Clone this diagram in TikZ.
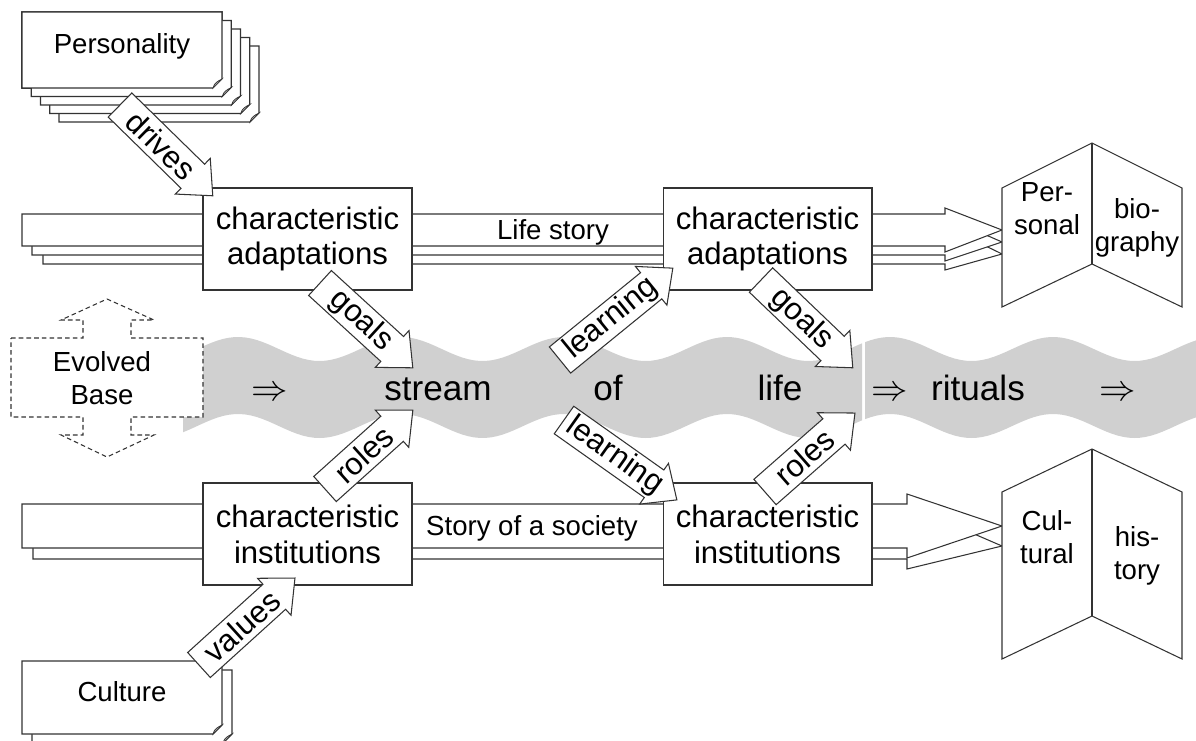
\documentclass[tikz,border=0pt]{standalone}
\usepackage{fontspec}
\setmainfont{Liberation Sans}
\usepackage{tikz}
\usetikzlibrary{calc}
\definecolor{streamgray}{RGB}{208,208,208}
\tikzset{outline/.style = {draw=black!80, line width=0.6pt, line join=miter}}
\tikzset{cbox/.style = {outline, fill=white, minimum width=4.18cm, minimum height=2.04cm,
                        inner sep=0, align=center, font=\fontsize{17.7}{20.4}\selectfont}}
\tikzset{lbl/.style = {inner sep=0, align=center, font=\fontsize{15.7}{18.7}\selectfont}}
\tikzset{word/.style = {inner sep=0, anchor=base, font=\fontsize{20}{24}\selectfont}}
\tikzset{layer/.style = {outline, fill=white}}
\tikzset{curl/.style = {outline, line width=0.4pt, fill=gray!55}}
\tikzset{evolved/.style = {draw=black!80, line width=0.6pt, fill=white, dash pattern=on 2.6pt off 1.8pt}}
\tikzset{arrowtext/.style = {inner sep=0, font=\fontsize{17.7}{20}\selectfont}}
% one sheet of a stack, folded corner at bottom right
\newcommand\docpage[4]{%
    \filldraw[outline, fill=white] (#1,#2) -- (#3,#2) -- (#3,#4-9) -- (#3-9,#4) -- (#1,#4) -- cycle;
    \filldraw[curl] (#3,#4-9) -- (#3-9,#4) .. controls (#3-8,#4-5) and (#3-4,#4-7) .. cycle;
}
% block arrow with text, from one named point to another
\newcommand\flowarrow[3]{%
    \path let \p1 = (#1), \p2 = (#2) in \pgfextra{%
        \pgfmathsetmacro\faang{atan2(\y2-\y1,\x2-\x1)}%
        \pgfmathsetmacro\falen{veclen(\x2-\x1,\y2-\y1)}%
        \xdef\faang{\faang}\xdef\falen{\falen}};
    \pgfmathsetmacro\fabase{\falen-15.9}%
    \pgfmathsetmacro\fatext{\falen/2-4}%
    \begin{scope}[shift={(#1)}, rotate=\faang, x=1pt, y=1pt]
        \filldraw[outline, fill=white] (0,9.6) -- (\fabase,9.6) -- (\fabase,14.2) -- (\falen,0)
            -- (\fabase,-14.2) -- (\fabase,-9.6) -- (0,-9.6) -- cycle;
        \node[arrowtext, transform shape] at (\fatext,0) {#3};
    \end{scope}
}

\begin{document}
\begin{tikzpicture}[x=0.02cm, y=-0.02cm]
    \useasboundingbox (0,0) rectangle (1196,740);
    \clip (0,0) rectangle (1196,740);

    % stream of life
    \fill[streamgray] plot[domain=183:862, samples=120] (\x, {349-12*cos((\x-238)*2.2086)})
        -- plot[domain=862:183, samples=120] (\x, {426-12*cos((\x-238)*2.2086)}) -- cycle;
    \fill[streamgray] plot[domain=865:1196, samples=60] (\x, {349-12*cos((\x-238)*2.2086)})
        -- plot[domain=1196:865, samples=60] (\x, {426-12*cos((\x-238)*2.2086)}) -- cycle;

    % life story, story of a society
    \foreach \dx/\dy/\ty in {21/18/254, 10/9/242, 0/0/230}
        \filldraw[layer] (22+\dx,214+\dy) -- (945,214+\dy) -- (945,208+\dy) -- (1002,\ty)
            -- (945,252+\dy) -- (945,246+\dy) -- (22+\dx,246+\dy) -- cycle;
    \foreach \dx/\dy/\ty in {11/11/546, 0/0/526}
        \filldraw[layer] (22+\dx,504+\dy) -- (907,504+\dy) -- (907,494+\dy) -- (1002,\ty)
            -- (907,558+\dy) -- (907,548+\dy) -- (22+\dx,548+\dy) -- cycle;

    \node[cbox] (ca1) at (307.5,239) {characteristic\\adaptations};
    \node[cbox] (ca2) at (767.5,239) {characteristic\\adaptations};
    \node[cbox] (ci1) at (307.5,534) {characteristic\\institutions};
    \node[cbox] (ci2) at (767.5,534) {characteristic\\institutions};
    \node[lbl] (lifestory) at (553,232) {Life story};
    \node[lbl] (society) at (532,528) {Story of a society};

    % books
    \filldraw[outline, fill=white] (1002,188) -- (1092,143) -- (1182,188) -- (1182,307)
        -- (1092,264) -- (1002,307) -- cycle;
    \draw[outline] (1092,143) -- (1092,264);
    \node[lbl] (per) at (1047,209) {Per-\\sonal};
    \node[lbl] (bio) at (1137,228) {bio-\\graphy};
    \filldraw[outline, fill=white] (1002,492) -- (1092,449) -- (1182,492) -- (1182,659)
        -- (1092,616) -- (1002,659) -- cycle;
    \draw[outline] (1092,449) -- (1092,616);
    \node[lbl] (cul) at (1047,537) {Cul-\\tural};
    \node[lbl] (his) at (1137,556) {his-\\tory};

    % personality and culture stacks
    \foreach \k in {4,3,2,1}
        \docpage{22+9.25*\k}{12+8.5*\k}{222+9.25*\k}{88+8.5*\k}
    \docpage{22}{12}{222}{88}
    \node[lbl] (pers) at (122,46) {Personality};
    \docpage{32}{670}{232}{743}
    \docpage{22}{661}{222}{734}
    \node[lbl] (cult) at (122,692) {Culture};

    % evolved base
    \filldraw[evolved] (11,338) -- (83,338) -- (83,320) -- (61,320) -- (107,299) -- (154,320)
        -- (131,320) -- (131,338) -- (203,338) -- (203,417) -- (131,417) -- (131,435)
        -- (154,435) -- (107,457) -- (61,435) -- (83,435) -- (83,417) -- (11,417) -- cycle;
    \node[lbl] (base) at (102,378) {Evolved\\Base};

    % words in the stream
    \node[word] (s1) at (270,400) {$\Rightarrow$};
    \node[word] (stream) at (438,400) {stream};
    \node[word] (of) at (608,400) {of};
    \node[word] (life) at (780,400) {life};
    \node[word] (s2) at (890,400) {$\Rightarrow$};
    \node[word] (rituals) at (978,400) {rituals};
    \node[word] (s3) at (1118,400) {$\Rightarrow$};

    % arrow ends
    \coordinate (drivesA) at (120,105);   \coordinate (drivesB) at (213,196);
    \coordinate (goalsA) at (320,283);    \coordinate (goalsB) at (413,368);
    \coordinate (goalsC) at (761,280);    \coordinate (goalsD) at (853,368);
    \coordinate (rolesA) at (325,489);    \coordinate (rolesB) at (413,410);
    \coordinate (rolesC) at (765,492);    \coordinate (rolesD) at (855,413);
    \coordinate (valuesA) at (199,665);   \coordinate (valuesB) at (295,578);
    \coordinate (learnA) at (560,360);    \coordinate (learnB) at (673,268);
    \coordinate (learnC) at (564,420);    \coordinate (learnD) at (677,500);

    \flowarrow{drivesA}{drivesB}{drives}
    \flowarrow{goalsA}{goalsB}{goals}
    \flowarrow{goalsC}{goalsD}{goals}
    \flowarrow{rolesA}{rolesB}{roles}
    \flowarrow{rolesC}{rolesD}{roles}
    \flowarrow{valuesA}{valuesB}{values}
    \flowarrow{learnA}{learnB}{learning}
    \flowarrow{learnC}{learnD}{learning}
\end{tikzpicture}
\end{document}
